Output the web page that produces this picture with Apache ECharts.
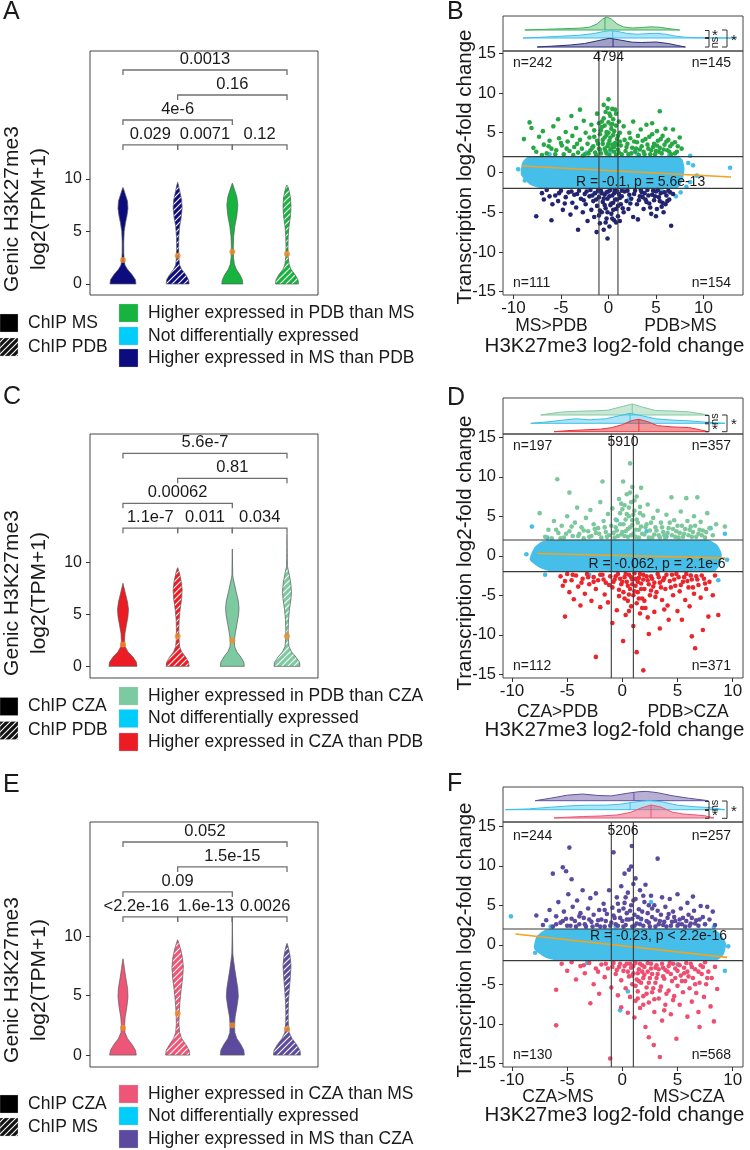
<!DOCTYPE html>
<html><head><meta charset="utf-8">
<script src="https://cdn.jsdelivr.net/npm/echarts@6/dist/echarts.min.js"></script>
<style>html,body{margin:0;padding:0;background:#fff}#c{width:750px;height:1150px}</style>
</head><body><div id="c"></div><script>
// ================= DATA =================
const violinPositions = [1, 2, 3, 4];
const violinYTicks = [0, 5, 10];
const scatterYTicks = [-15, -10, -5, 0, 5, 10, 15];
const scatterXTicks = [-10, -5, 0, 5, 10];
const foldCutX = [-1, 1];
const foldCutY = [-2, 2];

// Panel A violins: profiles [log2(TPM+1), relative density]
const aProfiles = [
  [[0,13],[0.4,12.5],[0.9,9],[1.4,4.5],[1.8,2],[2.3,1.2],[3,0.8],[4,0.8],[5,1.2],[5.8,2.5],[6.5,4],[7.2,5],[7.9,4.5],[8.5,2.5],[9.0,0.8],[9.2,0]],
  [[0,11.5],[0.4,11],[0.9,8],[1.4,4],[1.8,2],[2.5,1.2],[3.5,1],[4.5,1.2],[5.5,2],[6.3,3.5],[7.2,4.5],[8,4],[8.8,2.2],[9.4,0.8],[9.7,0]],
  [[0,10.5],[0.4,10],[0.9,7.5],[1.4,4],[1.9,2],[2.5,1.2],[3.5,1],[4.5,1.3],[5.5,2.5],[6.5,4.5],[7.5,5.5],[8.3,4.5],[8.9,2.5],[9.4,0.8],[9.6,0]],
  [[0,11.5],[0.4,11],[0.9,8],[1.4,4],[1.9,2],[2.6,1.2],[3.5,1],[4.5,1.2],[5.5,2],[6.5,3.5],[7.4,4],[8.2,3.5],[8.9,2],[9.3,0.8],[9.4,0]]
];
const aMedians = [2.29, 2.7, 3.07, 2.86];
const aBrackets = [[1,2,'0.029',1],[2,3,'0.0071',1],[3,4,'0.12',1],[1,3,'4e-6',2],[2,4,'0.16',3],[1,4,'0.0013',4]];

// Panel C violins
const cProfiles = [
  [[0,14],[0.4,13.5],[0.9,10],[1.4,5],[1.9,2.2],[2.5,1.6],[3.2,2],[4,3.5],[4.8,5],[5.5,5.5],[6.2,4.5],[7,2.5],[7.6,1],[8.0,0]],
  [[0,11.5],[0.4,11],[0.9,8],[1.4,4],[1.9,2],[2.7,1.3],[3.5,1.2],[4.5,1.5],[5.5,2.5],[6.5,4],[7.4,4.5],[8.2,3.5],[8.9,2],[9.3,0.8],[9.5,0]],
  [[0,12],[0.4,11.5],[0.9,8.5],[1.4,4.5],[1.9,2.3],[2.5,2],[3.2,3],[4,4.5],[5,6.3],[5.6,6.7],[6.3,6],[7.2,3.8],[8,2],[8.5,0.8],[8.8,0.4],[9.5,0.3],[11.3,0]],
  [[0,13],[0.4,12.5],[0.9,9],[1.4,4.5],[1.9,2],[2.7,1.3],[3.5,1.2],[4.5,1.5],[5.5,2.5],[6.5,4],[7.2,4.5],[8,3.8],[8.8,2.3],[9.3,1.2],[9.6,0.5],[10.5,0.3],[12.8,0]]
];
const cMedians = [2.1, 2.9, 2.5, 2.9];
const cBrackets = [[1,2,'1.1e-7',1],[2,3,'0.011',1],[3,4,'0.034',1],[1,3,'0.00062',2],[2,4,'0.81',3],[1,4,'5.6e-7',4]];

// Panel E violins
const eProfiles = [
  [[0,13.3],[0.4,12.5],[0.9,9],[1.4,4.5],[1.9,2],[2.5,1.6],[3.2,2.2],[4,3.8],[4.9,5],[5.6,4.6],[6.4,3],[7.2,1.6],[7.8,0.6],[8.1,0]],
  [[0,12],[0.4,11.5],[0.9,8],[1.4,4],[1.9,2],[2.6,1.3],[3.5,1.5],[4.5,2.3],[5.5,3.5],[6.5,5],[7.4,5.7],[8.2,4.8],[8.9,3],[9.4,1.2],[9.7,0]],
  [[0,12],[0.4,11.5],[0.9,8.5],[1.4,4.5],[1.9,2.5],[2.5,2.2],[3.2,2.8],[4,4.5],[4.9,6],[5.6,5.5],[6.4,4],[7.2,2.5],[8,1.2],[8.5,0.5],[9.5,0.3],[11.6,0]],
  [[0,13.5],[0.4,13],[0.9,9.5],[1.4,5],[1.9,2.2],[2.7,1.3],[3.5,1.2],[4.5,1.5],[5.5,2.3],[6.5,3.3],[7.5,4],[8.2,3.3],[8.8,2],[9.2,0.8],[9.4,0]]
];
const eMedians = [2.3, 3.5, 2.5, 2.2];
const eBrackets = [[1,2,'<2.2e-16',1],[2,3,'1.6e-13',1],[3,4,'0.0026',1],[1,3,'0.09',2],[2,4,'1.5e-15',3],[1,4,'0.052',4]];

// Panel B scatter (MS vs PDB)
const bUpPts = [[-8.9,4.2],[-8.3,6.3],[-8.1,5.6],[-7.9,3.1],[-7.6,2.6],[-7.3,4.5],[-6.9,5.2],[-6.8,3.5],[-6.5,2.4],[-6.2,4.0],[-6.0,3.0],[-5.8,5.8],[-5.5,2.8],[-5.3,6.7],[-5.2,4.3],[-4.9,3.4],[-4.7,2.3],[-4.5,5.1],[-4.3,3.9],[-4.1,2.7],[-3.9,7.1],[-3.8,4.6],[-3.6,3.2],[-3.4,5.6],[-3.2,2.5],[-3.0,7.9],[-3.0,4.1],[-2.8,3.0],[-2.6,6.5],[-2.5,2.3],[-2.4,5.0],[-2.2,3.6],[-2.0,4.4],[-1.9,2.8],[-1.8,6.0],
[-1.6,3.3],[-1.5,5.3],[-1.4,2.5],[-1.2,7.4],[-1.2,4.0],[-1.0,3.0],[-1.0,6.2],[-0.9,4.8],[-0.8,2.4],[-0.7,5.7],[-0.6,3.6],[-0.5,8.5],[-0.5,6.8],[-0.4,4.4],[-0.3,2.7],[-0.3,7.6],[-0.2,5.1],[-0.1,3.3],[0.0,9.2],[0.0,6.3],[0.1,4.0],[0.1,2.2],[0.2,7.1],[0.3,5.5],[0.3,3.0],[0.4,8.0],[0.5,6.7],[0.5,4.7],[0.6,2.6],[0.7,7.9],[0.7,3.7],[0.8,7.4],[0.8,5.9],[0.9,4.2],[1.0,2.9],[1.1,6.4],[1.2,5.0],[1.3,3.4],[1.4,2.3],
[1.6,5.8],[1.7,4.1],[1.8,2.7],[2.0,3.6],[2.2,5.0],[2.4,2.4],[2.6,6.4],[2.7,3.9],[2.9,3.0],[3.1,4.6],[3.2,2.2],[3.4,5.4],[3.5,3.3],[3.7,2.6],[3.9,4.2],[4.0,6.0],[4.2,3.0],[4.4,2.3],[4.6,6.2],[4.6,4.8],[4.8,3.6],[5.0,2.7],[5.1,5.2],[5.2,4.0],[5.4,7.7],[5.4,3.1],[5.6,2.4],[5.7,4.6],[5.9,3.5],[6.0,5.5],[6.2,2.8],[6.3,4.1],[6.5,3.3],[6.6,2.3],[6.8,5.4],[7.0,3.8],[7.2,2.6],[7.5,4.4],[7.7,3.0],
[-1.3,2.2],[-1.1,3.6],[-0.9,2.9],[-0.8,5.3],[-0.6,4.1],[-0.4,3.0],[-0.4,5.9],[-0.2,2.4],[-0.2,4.7],[0.0,3.6],[0.0,5.0],[0.2,2.9],[0.2,4.4],[0.4,3.5],[0.4,6.1],[0.6,5.2],[0.6,3.2],[0.8,2.2],[0.9,3.5],[1.0,4.6],[1.1,2.5],[1.2,3.9],[-1.5,4.5],[-1.7,3.1],[-2.1,2.4],[-2.7,2.1],[-3.3,3.6],[-3.7,2.2],[-4.4,3.0],[-5.0,3.7],[-5.6,2.3],[-6.3,3.3],[-7.0,2.2],[1.9,3.2],[2.1,2.3],[2.3,4.3],[2.5,3.1],[2.8,2.6],[3.0,3.8],[3.3,2.9],[3.6,4.0],[3.8,2.3],[4.1,3.5],[4.3,4.5],[4.5,2.8],[4.7,3.2],[4.9,2.3],[5.1,3.4],[5.3,2.6],[5.5,4.2],[5.8,2.9],[6.1,3.9],[6.4,2.6],[6.7,3.6],[7.0,2.4],[7.3,3.3],[-0.7,6.4],[0.1,7.4],[-0.1,8.1],[0.3,6.0]];
const bDownPts = [[-7.6,-5.5],[-7.0,-2.6],[-6.8,-3.4],[-6.5,-2.2],[-6.0,-6.0],[-5.9,-4.0],[-5.6,-2.9],[-5.3,-3.6],[-5.0,-2.3],[-4.8,-4.7],[-4.5,-3.1],[-4.2,-2.5],[-4.0,-5.3],[-3.8,-3.8],[-3.6,-2.8],[-3.4,-4.4],[-3.2,-7.2],[-3.1,-2.3],[-2.9,-3.3],[-2.7,-5.0],[-2.5,-2.7],[-2.4,-4.0],[-2.2,-6.1],[-2.0,-3.0],[-1.9,-2.2],[-1.8,-4.7],[-1.6,-3.6],[-1.5,-5.6],[-1.4,-2.6],[-1.25,-7.5],[-1.2,-4.2],[-1.0,-3.1],[-0.9,-6.4],[-0.8,-2.3],[-0.7,-5.0],[-0.6,-3.7],[-0.5,-7.2],[-0.4,-2.8],[-0.3,-4.5],[-0.2,-5.8],[-0.1,-8.3],[-0.1,-3.3],[0.0,-2.4],[0.1,-6.8],[0.2,-4.1],[0.3,-5.2],[0.4,-2.9],[0.5,-3.8],[0.6,-6.0],[0.7,-2.2],[0.8,-6.3],[0.8,-4.6],[0.9,-3.4],[1.0,-5.5],[1.1,-2.7],[1.3,-4.0],[1.4,-3.0],[1.6,-5.0],[1.7,-2.4],[1.9,-3.6],[2.1,-4.6],[2.2,-2.8],[2.4,-3.3],[2.6,-5.6],[2.8,-2.3],[3.0,-4.0],[3.1,-5.9],[3.3,-3.0],[3.5,-2.5],[3.7,-4.6],[3.9,-3.4],[4.1,-2.2],[4.3,-3.9],[4.5,-5.2],[4.6,-2.8],[4.8,-3.5],[5.0,-2.4],[5.1,-4.6],[5.3,-3.1],[5.5,-2.6],[5.7,-3.8],[5.8,-5.0],[6.0,-4.0],[6.1,-2.9],[6.3,-2.3],[6.4,-3.4],[6.6,-6.7],[6.8,-2.7],
[-1.7,-2.9],[-1.3,-3.4],[-1.1,-2.3],[-0.9,-4.8],[-0.7,-2.6],[-0.5,-3.3],[-0.4,-4.1],[-0.2,-2.5],[-0.1,-5.0],[0.1,-3.0],[0.2,-2.2],[0.3,-3.9],[0.5,-4.7],[0.6,-2.6],[0.7,-3.4],[0.9,-2.4],[1.0,-4.2],[1.2,-3.2],[1.4,-2.3],[1.5,-4.5],[-2.3,-2.4],[-2.6,-3.5],[-3.3,-2.7],[-3.9,-2.4],[-4.6,-3.9],[-5.2,-2.6],[-6.2,-3.0],[2.0,-2.3],[2.3,-3.9],[2.7,-2.7],[3.2,-3.5],[3.4,-2.2],[3.6,-3.1],[3.8,-2.6],[4.0,-3.7],[4.2,-2.9],[4.4,-4.4],[4.7,-2.3],[4.9,-3.0],[5.2,-2.2],[5.4,-3.6],[5.6,-4.3],[5.9,-2.5],[6.2,-3.6],[6.5,-2.5],[5.0,-5.5],[-0.3,-6.3],[0.4,-5.8],[-1.0,-5.4],[1.2,-6.1]];
const bNotBand = [[-9.1,1.2],[-8.6,1.9],[-7.5,2.0],[7.3,2.0],[7.8,1.6],[8.0,0.5],[7.8,-1.0],[7.2,-2.0],[-7.0,-2.0],[-8.3,-1.5],[-9.2,-0.3]];
const bNotPts = [[12.8,0.6],[8.6,2.1],[9.3,-0.4],[8.4,1.2],[-9.5,0.4],[-8.8,-1.0],[7.6,-2.5],[8.2,-1.8],[-6.2,2.3],[3.0,2.4],[0.2,2.6],[-1.5,-2.6],[5.6,-2.3],[7.1,-3.0],[-2.3,2.5],[8.9,0.9],[8.6,-1.2],[2.2,-3.3],[6.4,2.1]];
const bFit = [[-9.1,0.82],[12.9,-0.57]];
const bRidgeUp = [[-8.8,0],[-7,0.6],[-5,1.2],[-3,1.8],[-2,2.8],[-1.2,6],[-0.6,11],[-0.2,13],[0.3,11],[0.9,6],[1.6,3],[2.5,2],[3.5,2.5],[4.5,3.2],[5.5,2.6],[6.5,1.2],[7.5,0]];
const bRidgeNot = [[-9,0],[-7,0.8],[-5,1.8],[-3,2.8],[-1.5,4.5],[-0.5,6.5],[0.2,7.3],[1,6.5],[2,4.5],[3,3.8],[4,4.3],[5,4.7],[6,3.8],[7,2],[8,0.8],[10,0.2],[13.5,0]];
const bRidgeDown = [[-7.5,0],[-6,0.8],[-4,2],[-2.5,3.5],[-1,6.5],[0.1,8.7],[1.2,7],[2.5,4.8],[3.5,4.5],[5,5],[6.3,3.5],[7.3,1.5],[8.1,0]];
const bRidgeMedians = [-0.37, 0.45, 0.48];

// Panel D scatter (CZA vs PDB)
const dUpPts = [[-7.5,5.4],[-7.0,2.4],[-6.7,3.3],[-6.4,2.2],[-6.2,4.4],[-5.9,9.7],[-5.8,2.9],[-5.5,3.8],[-5.3,2.3],[-5.0,5.0],[-4.8,8.0],[-4.8,3.1],[-4.5,2.5],[-4.3,4.2],[-4.1,6.1],[-3.9,2.8],[-3.7,3.6],[-3.5,2.2],[-3.3,4.8],[-3.1,3.1],[-2.9,5.8],[-2.8,2.5],[-2.6,4.0],[-2.4,2.9],[-2.2,3.5],[-2.0,6.8],[-1.9,2.3],[-1.8,9.4],[-1.7,4.4],[-1.5,3.0],[-1.3,5.3],[-1.2,2.6],[-1.0,3.8],[-0.9,6.0],[-0.7,2.3],[-0.6,4.6],[-0.5,3.2],[-0.3,7.2],[-0.2,5.4],[-0.1,2.7],[0.07,9.4],[0.1,4.0],[0.2,6.4],[0.3,3.1],[0.4,7.8],[0.5,2.4],[0.6,5.0],[0.7,11.7],[0.7,3.6],[0.8,6.8],[0.9,8.7],[0.9,4.5],[1.0,2.8],[1.1,5.7],[1.2,3.3],[1.3,7.5],[1.4,4.2],[1.5,2.3],[1.6,6.2],[1.7,8.6],[1.7,3.7],[1.9,5.1],[2.0,2.7],[2.2,4.0],[2.3,6.5],[2.5,3.2],[2.7,2.3],[2.8,4.8],[3.0,3.6],[3.2,5.7],[3.3,2.6],[3.5,4.2],[3.7,3.0],[3.9,2.2],[4.0,5.2],[4.2,3.5],[4.45,7.4],[4.5,2.6],[4.7,4.5],[4.9,3.1],[5.1,2.3],[5.3,5.6],[5.4,3.8],[5.6,2.8],[5.8,7.3],[5.9,4.4],[6.1,3.3],[6.3,2.4],[6.5,5.0],[6.6,3.8],[6.8,7.4],[6.9,2.8],[7.1,4.3],[7.3,3.2],[7.5,2.3],[7.7,5.4],[7.9,3.5],[8.2,2.6],[8.5,4.0],[9.3,3.7],
[-0.8,2.9],[-0.6,3.6],[-0.4,2.5],[-0.2,4.0],[0.0,3.0],[0.0,5.9],[0.2,2.5],[0.3,4.6],[0.5,3.4],[0.6,6.1],[0.8,2.6],[0.9,3.9],[1.0,5.2],[1.2,2.4],[1.3,4.6],[1.5,3.3],[1.6,5.4],[1.8,2.8],[2.1,3.6],[2.4,2.3],[-1.4,2.4],[-1.6,3.6],[-2.1,2.8],[-2.5,3.4],[-3.0,2.4],[-3.5,3.2],[-4.0,2.5],[-4.6,3.7],[-5.1,2.8],[-5.6,2.2],[-6.0,3.3],[2.6,4.2],[2.9,2.7],[3.1,3.2],[3.4,2.3],[3.6,3.6],[3.8,2.6],[4.1,2.9],[4.3,4.2],[4.6,3.4],[4.8,2.4],[5.0,3.8],[5.2,2.9],[5.5,2.4],[5.7,3.4],[6.0,2.6],[6.2,3.7],[6.4,3.0],[6.7,2.4],[7.0,3.3],[7.2,2.6],[7.6,3.0],[0.4,5.3],[-0.1,6.6],[1.1,7.0],[0.7,8.0]];
const dDownPts = [[-5.6,-2.6],[-5.4,-3.8],[-5.2,-7.7],[-5.0,-2.3],[-4.8,-4.6],[-4.6,-3.1],[-4.4,-5.5],[-4.2,-2.5],[-4.0,-3.9],[-3.8,-6.3],[-3.6,-2.9],[-3.4,-4.8],[-3.2,-2.3],[-3.0,-3.6],[-2.8,-5.7],[-2.6,-2.7],[-2.4,-12.8],[-2.4,-4.2],[-2.2,-3.1],[-2.0,-6.5],[-1.8,-2.4],[-1.6,-4.9],[-1.5,-3.4],[-1.3,-5.9],[-1.1,-2.6],[-0.9,-8.5],[-0.9,-4.0],[-0.7,-3.0],[-0.5,-6.9],[-0.4,-2.3],[-0.3,-5.1],[-0.1,-3.6],[0.07,-10.8],[0.1,-4.6],[0.2,-2.7],[0.3,-7.5],[0.4,-3.3],[0.5,-5.7],[0.6,-2.4],[0.7,-4.2],[0.8,-6.4],[0.9,-3.0],[1.0,-8.9],[1.0,-5.0],[1.1,-2.2],[1.2,-3.8],[1.3,-12.2],[1.3,-6.0],[1.4,-4.6],[1.5,-2.8],[1.6,-7.3],[1.7,-3.5],[1.8,-5.4],[1.9,-14.5],[1.9,-2.4],[2.0,-4.2],[2.1,-6.6],[2.3,-3.1],[2.4,-9.9],[2.5,-5.0],[2.6,-2.6],[2.8,-3.9],[2.9,-7.1],[3.1,-4.6],[3.2,-2.3],[3.4,-9.2],[3.4,-3.4],[3.6,-5.6],[3.8,-2.8],[3.9,-4.2],[4.1,-6.3],[4.2,-8.1],[4.3,-3.2],[4.5,-2.4],[4.6,-5.0],[4.8,-3.8],[5.0,-7.0],[5.1,-2.7],[5.2,-4.5],[5.4,-8.1],[5.5,-3.3],[5.7,-5.6],[5.8,-2.3],[6.0,-4.0],[6.1,-6.4],[6.3,-10.2],[6.3,-3.0],[6.5,-4.8],[6.6,-11.7],[6.7,-2.6],[6.9,-3.7],[7.1,-5.3],[7.3,-9.4],[7.4,-2.9],[7.6,-4.2],[7.8,-7.7],[7.9,-3.3],[8.2,-5.0],[8.7,-7.5],[8.4,-2.5],
[-0.8,-3.3],[-0.6,-2.6],[-0.3,-4.3],[-0.2,-2.9],[0.0,-3.3],[0.2,-5.4],[0.3,-2.3],[0.5,-3.8],[0.6,-4.9],[0.8,-2.7],[0.9,-3.6],[1.1,-4.5],[1.2,-2.9],[1.4,-3.3],[1.5,-5.4],[1.6,-2.3],[1.7,-4.2],[1.9,-3.0],[2.0,-5.7],[2.2,-2.6],[2.4,-3.6],[2.6,-4.4],[2.7,-2.9],[2.9,-3.4],[3.0,-5.2],[3.3,-2.7],[3.5,-4.0],[3.7,-3.1],[4.0,-2.4],[4.4,-4.0],[4.7,-3.0],[4.9,-2.3],[5.3,-3.7],[5.6,-2.7],[5.9,-3.2],[6.2,-2.5],[6.4,-4.0],[6.8,-3.0],[7.2,-2.5],[7.5,-3.5],[-1.2,-3.7],[-1.7,-3.0],[-2.0,-2.4],[-2.6,-3.3],[-3.1,-2.7],[-3.7,-3.4],[-4.5,-2.4],[-5.2,-3.2],[0.6,-7.0],[1.8,-6.6],[2.3,-7.8],[3.8,-6.8]];
const dNotBand = [[-8.4,-0.5],[-8.0,1.0],[-7.3,1.8],[-6.5,2.0],[7.8,2.0],[8.6,1.4],[9.0,0.3],[8.9,-1.0],[8.3,-2.0],[-6.3,-2.0],[-7.5,-1.5]];
const dNotPts = [[-8.2,3.7],[-8.7,0.2],[9.3,2.8],[9.5,-0.5],[8.7,-3.1],[-6.8,2.3],[-0.5,4.5],[2.2,3.1],[6.2,-2.5],[-3.0,-2.4],[8.0,3.5],[4.0,2.4],[1.2,-3.0],[-7.0,-2.4]];
const dFit = [[-7.7,0.3],[9.3,-0.3]];
const dRidgeUp = [[-7.4,0],[-6.5,1.5],[-5.5,3],[-4,3.8],[-2.5,4.2],[-1.3,4.8],[-0.2,8],[0.9,11],[1.8,8],[3,4.5],[4.5,4],[6,3.2],[7,1.5],[7.8,0]];
const dRidgeNot = [[-8.3,0],[-7,1.2],[-5.5,3],[-4.2,4.5],[-3,3.5],[-1.5,4.5],[-0.3,7.5],[0.7,10],[1.8,7.5],[3,4.5],[4.5,3.2],[6,2.5],[7.5,1.2],[9.3,0]];
const dRidgeDown = [[-6.2,0],[-5,1],[-3.5,1.8],[-2,2.5],[-1,4],[0,7],[0.8,11],[1.5,12.4],[2.3,10],[3.2,6],[4.5,4.8],[6,4.2],[7,2],[7.8,0]];
const dRidgeMedians = [0.9, 0.7, 1.5];

// Panel F scatter (CZA vs MS)
const fUpPts = [[-7.8,3.7],[-7.2,2.5],[-6.9,3.1],[-6.6,4.4],[-6.3,9.0],[-6.3,2.3],[-6.0,3.6],[-5.8,5.4],[-5.6,2.8],[-5.4,9.8],[-5.3,4.2],[-5.1,9.3],[-5.1,3.3],[-4.9,6.4],[-4.8,12.3],[-4.7,2.4],[-4.6,8.3],[-4.5,4.8],[-4.3,3.0],[-4.1,5.6],[-3.9,2.6],[-3.8,4.0],[-3.6,6.9],[-3.5,3.4],[-3.3,2.3],[-3.1,4.6],[-2.9,5.9],[-2.8,2.9],[-2.6,3.8],[-2.4,6.5],[-2.3,2.5],[-2.1,4.4],[-1.9,3.2],[-1.7,5.2],[-1.6,2.3],[-1.4,3.9],[-1.2,6.9],[-1.0,2.8],[-0.9,4.7],[-0.8,11.7],[-0.7,3.4],[-0.5,6.0],[-0.4,2.4],[-0.3,4.3],[-0.1,7.4],[0.0,3.0],[0.2,9.0],[0.2,5.3],[0.3,2.5],[0.4,4.0],[0.5,6.6],[0.6,9.5],[0.6,3.2],[0.8,9.9],[0.8,5.0],[0.86,12.5],[0.9,2.3],[1.0,7.7],[1.1,3.8],[1.2,8.4],[1.2,5.8],[1.3,2.7],[1.5,4.5],[1.6,6.9],[1.7,3.3],[1.9,2.4],[2.0,5.4],[2.1,7.6],[2.3,4.0],[2.4,2.8],[2.6,6.2],[2.7,3.5],[2.9,5.0],[3.0,2.3],[3.2,10.9],[3.2,4.3],[3.4,3.0],[3.6,6.0],[3.7,2.5],[3.9,4.8],[4.1,3.4],[4.3,5.8],[4.4,2.4],[4.6,4.2],[4.8,3.0],[5.0,6.4],[5.1,2.6],[5.3,4.6],[5.5,3.4],[5.7,2.3],[5.9,5.3],[6.0,3.8],[6.2,2.7],[6.4,6.1],[6.5,4.3],[6.7,3.1],[6.9,2.4],[7.1,4.9],[7.3,3.5],[7.5,2.6],[7.7,4.8],[7.9,3.2],[8.2,4.2],[8.4,2.5],
[-4.2,2.3],[-3.9,3.6],[-3.4,2.6],[-3.0,3.2],[-2.7,2.3],[-2.2,3.1],[-2.0,2.3],[-1.5,3.0],[-1.1,2.4],[-0.8,3.7],[-0.6,2.6],[-0.2,3.4],[0.1,2.3],[0.1,4.6],[0.4,3.2],[0.7,4.3],[0.9,3.3],[1.1,2.4],[1.4,3.5],[1.6,2.6],[1.8,4.2],[2.2,3.0],[2.5,2.3],[2.7,4.6],[3.0,3.2],[3.3,2.6],[3.5,3.8],[3.8,2.9],[4.0,2.3],[4.2,3.9],[4.5,2.9],[4.7,3.5],[5.0,2.4],[5.2,3.2],[5.4,2.6],[5.8,3.0],[6.1,2.4],[6.3,3.4],[6.6,2.7],[7.0,3.2],[-5.0,2.4],[-5.4,3.0],[-6.0,2.6],[-4.6,3.3],[-0.4,5.2],[0.3,6.0],[1.0,5.6],[1.9,6.2],[2.4,5.0],[-1.6,4.4]];
const fDownPts = [[-6.0,-5.7],[-6.0,-10.2],[-5.5,-2.4],[-5.0,-3.3],[-4.6,-2.2],[-4.2,-4.4],[-3.8,-2.7],[-3.4,-3.6],[-3.0,-2.3],[-2.9,-7.4],[-2.6,-5.0],[-2.4,-3.0],[-2.1,-6.2],[-1.9,-2.5],[-1.6,-4.1],[-1.3,-3.0],[-1.1,-14.4],[-1.0,-5.4],[-0.8,-2.3],[-0.6,-3.7],[-0.4,-6.4],[-0.3,-2.8],[-0.1,-7.9],[-0.1,-4.5],[0.1,-3.3],[0.3,-5.5],[0.4,-2.4],[0.5,-8.6],[0.6,-4.0],[0.7,-6.6],[0.8,-2.9],[0.9,-5.0],[1.0,-3.6],[1.1,-9.2],[1.2,-7.1],[1.2,-2.3],[1.3,-4.4],[1.4,-5.9],[1.5,-3.1],[1.6,-8.0],[1.7,-4.8],[1.8,-2.6],[1.9,-6.5],[2.0,-3.8],[2.1,-10.4],[2.2,-5.4],[2.3,-2.3],[2.4,-11.7],[2.4,-7.3],[2.5,-4.2],[2.6,-3.0],[2.7,-6.0],[2.85,-12.7],[2.9,-8.5],[3.0,-4.8],[3.1,-2.6],[3.2,-3.7],[3.3,-6.8],[3.4,-14.2],[3.5,-5.3],[3.6,-9.6],[3.7,-2.9],[3.8,-4.3],[3.9,-7.6],[4.1,-3.4],[4.2,-5.8],[4.3,-2.3],[4.4,-8.8],[4.5,-4.6],[4.7,-6.5],[4.8,-3.0],[4.9,-11.9],[5.0,-5.2],[5.1,-2.5],[5.2,-7.6],[5.3,-3.9],[5.5,-6.0],[5.6,-2.9],[5.7,-4.6],[5.9,-9.1],[5.9,-3.4],[6.1,-5.5],[6.2,-2.4],[6.3,-7.2],[6.4,-4.2],[6.6,-3.1],[6.7,-6.1],[6.9,-8.5],[7.0,-10.4],[7.0,-4.8],[7.1,-2.6],[7.2,-3.7],[7.4,-6.6],[7.5,-2.2],[7.6,-5.0],[7.8,-3.4],[8.0,-7.8],[8.1,-4.2],[8.3,-9.7],[8.4,-2.8],[8.6,-5.6],
[0.2,-2.7],[0.5,-3.4],[0.7,-2.4],[0.9,-3.9],[1.0,-2.7],[1.2,-5.2],[1.4,-3.6],[1.5,-4.6],[1.6,-2.4],[1.8,-3.4],[1.9,-4.2],[2.0,-2.8],[2.2,-6.2],[2.3,-3.4],[2.4,-4.8],[2.6,-2.4],[2.7,-3.7],[2.8,-5.5],[3.0,-2.9],[3.1,-4.2],[3.3,-3.1],[3.4,-5.8],[3.6,-2.4],[3.7,-4.0],[3.9,-3.2],[4.0,-6.2],[4.2,-2.7],[4.4,-3.7],[4.6,-2.4],[4.8,-4.2],[5.0,-3.3],[5.2,-2.6],[5.4,-4.6],[5.6,-3.6],[5.8,-2.3],[6.0,-4.0],[6.3,-2.8],[6.6,-5.0],[6.9,-3.4],[7.3,-2.8],[7.7,-4.2],[-0.2,-2.4],[-0.5,-3.2],[-0.9,-2.8],[-1.5,-2.4],[-2.2,-3.4],[-3.5,-2.6],[1.9,-7.6],[2.9,-6.9],[3.8,-8.3],[4.6,-7.0],[1.4,-6.8]];
const fNotBand = [[-8.0,-0.5],[-7.8,1.0],[-7.0,1.9],[-6.0,2.0],[8.0,2.0],[8.8,1.5],[9.4,0.2],[9.2,-1.2],[8.5,-2.0],[-5.8,-2.0],[-7.0,-1.6]];
const fNotPts = [[-10.1,3.6],[-7.9,-1.0],[9.6,-0.2],[9.3,-3.3],[0.5,-5.9],[-0.2,-8.3],[7.5,2.6],[8.3,2.2],[-6.5,2.3],[1.7,3.2],[5.0,-2.5],[-3.2,-2.3],[-0.6,2.3],[2.6,5.4]];
const fFit = [[-9.7,1.37],[9.5,-1.6]];
const fRidgeUp = [[-7.9,0],[-6.5,2.5],[-5,5.5],[-3.6,6.7],[-2.2,5.2],[-1,4.8],[0.5,7.5],[1.5,9],[2.2,9.3],[3.2,8],[4.5,5],[6,2.5],[7.8,0]];
const fRidgeNot = [[-10.6,0],[-8.5,0.8],[-6.5,2.5],[-4.5,4],[-3,4.5],[-1.5,4.5],[-0.2,5.5],[1,7.5],[2.4,9.3],[3.5,8],[5,4.5],[6.5,3],[8,2],[9.3,0]];
const fRidgeDown = [[-6.2,0],[-5,0.8],[-3.5,1.5],[-2,2],[-0.5,3],[0.7,5.5],[1.7,10],[2.6,13],[3.5,11],[4.5,6],[5.5,4],[6.5,3.2],[7.5,2.2],[8.3,0]];
const fRidgeMedians = [1.05, 0.7, 2.6];

// ================= RENDERING =================
const FONT = "'Liberation Sans', Arial, Helvetica, sans-serif";
const TXT = '#1a1a1a';
const VW = 1 / 54.68; // px of violin half-width -> x units

function hatch(color, bg) {
  const c = document.createElement('canvas'); c.width = 6; c.height = 6;
  const g = c.getContext('2d');
  g.fillStyle = color; g.fillRect(0, 0, 6, 6);
  g.strokeStyle = bg || 'rgba(255,255,255,0.95)'; g.lineWidth = 1.2;
  g.beginPath();
  g.moveTo(-1, 7); g.lineTo(7, -1);
  g.moveTo(-4, 4); g.lineTo(4, -4);
  g.moveTo(2, 10); g.lineTo(10, 2);
  g.stroke();
  return { type: 'pattern', image: c, repeat: 'repeat' };
}

const grids = [
  {left: 90, top: 51, width: 228, height: 244},   // 0 A
  {left: 90, top: 434, width: 228, height: 244},  // 1 C
  {left: 90, top: 822, width: 228, height: 245},  // 2 E
  {left: 503, top: 16, width: 240, height: 35},   // 3 B strip
  {left: 503, top: 51, width: 240, height: 244},  // 4 B scatter
  {left: 503, top: 398, width: 240, height: 36},  // 5 D strip
  {left: 503, top: 434, width: 240, height: 244}, // 6 D scatter
  {left: 503, top: 787, width: 240, height: 35},  // 7 F strip
  {left: 503, top: 822, width: 240, height: 245}  // 8 F scatter
].map(g => Object.assign({show: true, borderColor: '#444', borderWidth: 1, backgroundColor: 'transparent', containLabel: false, outerBoundsMode: 'none'}, g));

const xAxes = [], yAxes = [];
function hiddenAxis(gi, min, max) { return {type: 'value', gridIndex: gi, min, max, show: false, splitLine: {show: false}, axisLine: {show: false, onZero: false}}; }
function tickAxis(gi, min, max, ticks, fs, margin) {
  return {type: 'value', gridIndex: gi, min, max,
    axisLine: {show: false, onZero: false}, splitLine: {show: false},
    axisTick: {show: true, length: 4, customValues: ticks, lineStyle: {color: '#333', width: 1}},
    axisLabel: {show: true, customValues: ticks, fontSize: fs, color: TXT, fontFamily: FONT, margin}};
}
[[-1.05, 22.19], [-1.12, 22.37], [-1.0, 19.6]].forEach((r, i) => {
  xAxes.push(hiddenAxis(i, 0.397, 4.567));
  const ya = tickAxis(i, r[0], r[1], violinYTicks, 16, 8);
  ya.position = 'left';
  yAxes.push(ya);
});
const scatRanges = [
  {x: [-11.1, 14.16], y: [-15.41, 15.28], strip: 35},
  {x: [-10.82, 10.94], y: [-15.47, 15.42], strip: 36},
  {x: [-10.82, 10.94], y: [-15.47, 15.54], strip: 35}
];
scatRanges.forEach((r, k) => {
  const gs = 3 + 2 * k, gp = 4 + 2 * k;
  xAxes.push(hiddenAxis(gs, r.x[0], r.x[1]));
  yAxes.push(hiddenAxis(gs, 0, r.strip));
  const xa = tickAxis(gp, r.x[0], r.x[1], scatterXTicks, 17, 5);
  xa.position = 'bottom';
  xAxes.push(xa);
  const ya = tickAxis(gp, r.y[0], r.y[1], scatterYTicks, 16.5, 7);
  ya.position = 'left';
  yAxes.push(ya);
});

const series = [];
function violins(gi, profiles, colors, hatched, medians, brackets, levels, nudge) {
  series.push({
    type: 'custom', xAxisIndex: gi, yAxisIndex: gi, silent: true, z: 2, animation: false,
    data: profiles.map((p, i) => [violinPositions[i], medians[i]]),
    renderItem(params, api) {
      const i = params.dataIndex, prof = profiles[i], cx = violinPositions[i];
      const right = prof.map(([y, w]) => api.coord([cx + w * VW, y]));
      const left = prof.slice().reverse().map(([y, w]) => api.coord([cx - w * VW, y]));
      return {type: 'polygon', shape: {points: right.concat(left)},
        style: {fill: hatched[i] ? hatch(colors[i]) : colors[i], stroke: '#5a5a5a', lineWidth: 0.7}};
    }
  });
  series.push({
    type: 'scatter', xAxisIndex: gi, yAxisIndex: gi, silent: true, z: 4, animation: false,
    data: medians.map((m, i) => [violinPositions[i], m]),
    symbol: 'circle', symbolSize: 6, itemStyle: {color: '#f28c28'}
  });
  series.push({
    type: 'custom', xAxisIndex: gi, yAxisIndex: gi, silent: true, z: 3, animation: false,
    data: brackets.map(b => [b[0], levels[b[3] - 1]]),
    renderItem(params, api) {
      const [a, b, label, lvl] = brackets[params.dataIndex];
      const y = levels[lvl - 1];
      const p1 = api.coord([a, y]), p2 = api.coord([b, y]);
      const d = 5;
      const dx = (nudge && nudge[params.dataIndex]) || 0;
      return {type: 'group', children: [
        {type: 'polyline', shape: {points: [[p1[0], p1[1] + d], [p1[0], p1[1]], [p2[0], p2[1]], [p2[0], p2[1] + d]]},
          style: {stroke: '#707070', lineWidth: 1.3, fill: null}},
        {type: 'text', style: {text: label, x: (p1[0] + p2[0]) / 2 + dx, y: p1[1] - 10.5,
          textAlign: 'center', align: 'center', textVerticalAlign: 'middle', verticalAlign: 'middle',
          fontSize: 16.5, fontFamily: FONT, fill: TXT}}
      ]};
    }
  });
}
const navy = '#0c0c7e', green = '#16b43f', red = '#ec1c24', mint = '#7dcaa0', pink = '#ee5677', purple = '#5b4a9e';
violins(0, aProfiles, [navy, navy, green, green], [false, true, false, true], aMedians, aBrackets, [13.24, 15.62, 18.0, 20.38]);
violins(1, cProfiles, [red, red, mint, mint], [false, true, false, true], cMedians, cBrackets, [13.3, 15.7, 18.1, 20.5]);
violins(2, eProfiles, [pink, pink, purple, purple], [false, true, false, true], eMedians, eBrackets, [11.62, 13.72, 15.82, 17.92], {0: -14, 1: 1, 2: 5.5});

function scatterPanel(k, up, down, band, notPts, fit, ridges, upColor, downColor, ridgeColors, bases) {
  const gs = 3 + 2 * k, gp = 4 + 2 * k;
  const cyan = '#45bfea';
  const rl = [0, 1, 2].map(i => ({pts: ridges[i], base: bases[i], c: ridgeColors[i][0], f: ridgeColors[i][1], med: ridges[3][i]}));
  series.push({
    type: 'custom', xAxisIndex: gs, yAxisIndex: gs, silent: true, z: 2, animation: false,
    data: rl.map(r => [r.med, r.base]),
    renderItem(params, api) {
      const r = rl[params.dataIndex];
      const pts = r.pts.map(p => api.coord([p[0], r.base + p[1]]));
      const first = r.pts[0][0], last = r.pts[r.pts.length - 1][0];
      const poly = pts.concat([api.coord([last, r.base]), api.coord([first, r.base])]);
      let h = 0;
      for (let q = 0; q < r.pts.length - 1; q++) {
        const [x0, h0] = r.pts[q], [x1, h1] = r.pts[q + 1];
        if (r.med >= x0 && r.med <= x1) { h = h0 + (h1 - h0) * (r.med - x0) / (x1 - x0); break; }
      }
      const m0 = api.coord([r.med, r.base]), m1 = api.coord([r.med, r.base + h]);
      return {type: 'group', children: [
        {type: 'polygon', shape: {points: poly}, style: {fill: r.f, stroke: r.c, lineWidth: 1}},
        {type: 'line', shape: {x1: m0[0], y1: m0[1], x2: m1[0], y2: m1[1]}, style: {stroke: r.c, lineWidth: 1}}
      ]};
    }
  });
  series.push({
    type: 'custom', xAxisIndex: gp, yAxisIndex: gp, silent: true, z: 1, animation: false,
    data: [band[0]],
    renderItem(params, api) {
      return {type: 'polygon', shape: {points: band.map(p => api.coord(p)), smooth: 0.2}, style: {fill: cyan}};
    }
  });
  const sc = (pts, color, z) => ({type: 'scatter', xAxisIndex: gp, yAxisIndex: gp, data: pts, symbolSize: 4.6,
    itemStyle: {color, opacity: 1}, silent: true, z, animation: false});
  series.push(sc(notPts, cyan, 2));
  series.push(sc(up, upColor, 3));
  series.push(sc(down, downColor, 3));
  series.push({type: 'line', xAxisIndex: gp, yAxisIndex: gp, data: fit, showSymbol: false, silent: true, z: 5,
    lineStyle: {color: '#f5a21c', width: 1.6}, animation: false});
  const cuts = foldCutX.map(v => ['v', v]).concat(foldCutY.map(v => ['h', v]));
  series.push({
    type: 'custom', xAxisIndex: gp, yAxisIndex: gp, silent: true, z: 6, animation: false,
    data: cuts.map(c => c[0] === 'v' ? [c[1], 0] : [0, c[1]]),
    renderItem(params, api) {
      const [t, v] = cuts[params.dataIndex];
      const cs = params.coordSys;
      if (t === 'v') {
        const x = api.coord([v, 0])[0];
        return {type: 'line', shape: {x1: x, y1: cs.y, x2: x, y2: cs.y + cs.height}, style: {stroke: '#3a3a3a', lineWidth: 1.1}};
      }
      const y = api.coord([0, v])[1];
      return {type: 'line', shape: {x1: cs.x, y1: y, x2: cs.x + cs.width, y2: y}, style: {stroke: '#3a3a3a', lineWidth: 1.1}};
    }
  });
}
scatterPanel(0, bUpPts, bDownPts, bNotBand, bNotPts, bFit, [bRidgeUp, bRidgeNot, bRidgeDown, bRidgeMedians],
  '#27a845', '#23246f',
  [['#3fb05a', 'rgba(63,176,90,0.42)'], ['#3cc0ec', 'rgba(60,192,236,0.42)'], ['#2c2e7c', 'rgba(44,46,124,0.45)']], [21, 13, 4]);
scatterPanel(1, dUpPts, dDownPts, dNotBand, dNotPts, dFit, [dRidgeUp, dRidgeNot, dRidgeDown, dRidgeMedians],
  '#7cc79b', '#e8262c',
  [['#86c9a2', 'rgba(134,201,162,0.45)'], ['#3cc0ec', 'rgba(60,192,236,0.42)'], ['#e8343a', 'rgba(232,52,58,0.5)']], [19, 10.7, 2.3]);
scatterPanel(2, fUpPts, fDownPts, fNotBand, fNotPts, fFit, [fRidgeUp, fRidgeNot, fRidgeDown, fRidgeMedians],
  '#5b4b9e', '#ee4f70',
  [['#5f50a0', 'rgba(95,80,160,0.45)'], ['#3cc0ec', 'rgba(60,192,236,0.42)'], ['#ee5676', 'rgba(238,86,118,0.5)']], [21.3, 12.3, 4]);

// ================= TEXT / LEGENDS =================
const G = [];
function T(text, x, y, size, align, opt) {
  opt = opt || {};
  G.push({type: 'text', x, y, rotation: opt.rot || 0, z: 100, silent: true,
    style: {text, fontSize: size, fontFamily: FONT, fill: opt.color || TXT,
      textAlign: align || 'left', align: align || 'left', textVerticalAlign: 'middle', verticalAlign: 'middle',
      lineHeight: opt.lh || Math.round(size * 1.2)}});
}
function Rc(x, y, w, h, fill) {
  G.push({type: 'rect', shape: {x, y, width: w, height: h}, z: 100, silent: true, style: {fill, stroke: 'rgba(200,200,200,0.6)', lineWidth: 0.5}});
}
function PL(points) {
  G.push({type: 'polyline', shape: {points}, z: 100, silent: true, style: {stroke: '#333', lineWidth: 1, fill: null}});
}
[['A', 3, 12], ['B', 447, 12.5], ['C', 3, 397.5], ['D', 447, 398.5], ['E', 3, 785.5], ['F', 447, 784]].forEach(l => T(l[0], l[1], l[2], 25, 'left'));
[209, 593, 980].forEach(y => T('Genic H3K27me3\nlog2(TPM+1)', 25.5, y, 21, 'center', {rot: Math.PI / 2, lh: 27}));
[167, 553, 940].forEach(y => T('Transcription log2-fold change', 465, y, 20.5, 'center', {rot: Math.PI / 2}));
[[346, 326, 'MS>PDB', 'PDB>MS', 551.5, 680.5], [730, 711.7, 'CZA>PDB', 'PDB>CZA', 557.7, 688], [1115.7, 1096.7, 'CZA>MS', 'MS>CZA', 558, 689]].forEach(r => {
  T('H3K27me3 log2-fold change', 614.5, r[0], 20.5, 'center');
  T(r[2], r[4], r[1], 17.5, 'center');
  T(r[3], r[5], r[1], 17.5, 'center');
});
[[['n=242', 'n=145', '4794', 'n=111', 'n=154', 'R = -0.1, p = 5.6e-13'], 63, 57, 283, 608.5, 576, 182],
 [['n=197', 'n=357', '5910', 'n=112', 'n=371', 'R = -0.062, p = 2.1e-6'], 446, 441.7, 666, 623, 588.5, 564],
 [['n=244', 'n=257', '5206', 'n=130', 'n=568', 'R = -0.23, p < 2.2e-16'], 836, 830.7, 1055, 623, 590, 936]].forEach(r => {
  const s = r[0];
  T(s[0], 513, r[1], 14, 'left');
  T(s[1], 731, r[1], 14, 'right');
  T(s[2], r[4], r[2], 14, 'center');
  T(s[3], 513, r[3], 14, 'left');
  T(s[4], 731, r[3], 14, 'right');
  T(s[5], r[5], r[6], 14, 'left');
});
[[[30, 38, 47], '*', 'ns'], [[415, 423.3, 431.7], 'ns', '*'], [[801, 810, 818.3], 'ns', '*']].forEach(r => {
  const [b0, b1, b2] = r[0];
  PL([[705, b0 + 0.5], [709, b0 + 0.5], [709, b1 - 0.5], [705, b1 - 0.5]]);
  PL([[705, b1 + 0.5], [709, b1 + 0.5], [709, b2], [705, b2]]);
  PL([[722, b0], [727, b0], [727, b2], [722, b2]]);
  const lab = (t, y) => t === '*' ? T('*', 715, y + 2, 15, 'center') : T('ns', 714.5, y, 11, 'center', {rot: Math.PI / 2});
  lab(r[1], (b0 + b1) / 2);
  lab(r[2], (b1 + b2) / 2);
  T('*', 734, (b0 + b2) / 2 + 2, 15, 'center');
});
function legend(yb, yh, names, cols, ys) {
  Rc(0, yb, 18, 18, '#000'); T(names[0], 28, yb + 9, 17.5, 'left');
  Rc(0, yh, 18, 18, hatch('#111')); T(names[1], 28, yh + 9, 17.5, 'left');
  for (let i = 0; i < 3; i++) { Rc(119, ys[i], 19, 18, cols[i]); T(names[2 + i], 148, ys[i] + 9, 17.5, 'left'); }
}
legend(314, 338, ['ChIP MS', 'ChIP PDB', 'Higher expressed in PDB than MS', 'Not differentially expressed', 'Higher expressed in MS than PDB'], [green, '#00cdfb', navy], [304, 327, 349]);
legend(697.5, 721.5, ['ChIP CZA', 'ChIP PDB', 'Higher expressed in PDB than CZA', 'Not differentially expressed', 'Higher expressed in CZA than PDB'], [mint, '#00cdfb', red], [687, 709.5, 733]);
legend(1095, 1118, ['ChIP CZA', 'ChIP MS', 'Higher expressed in CZA than MS', 'Not differentially expressed', 'Higher expressed in MS than CZA'], [pink, '#00cdfb', purple], [1085, 1107, 1130]);

const chart = echarts.init(document.getElementById('c'), null, {renderer: 'canvas'});
chart.setOption({
  animation: false,
  backgroundColor: '#fff',
  textStyle: {fontFamily: FONT},
  grid: grids, xAxis: xAxes, yAxis: yAxes, series,
  graphic: {elements: G}
});
</script></body></html>
